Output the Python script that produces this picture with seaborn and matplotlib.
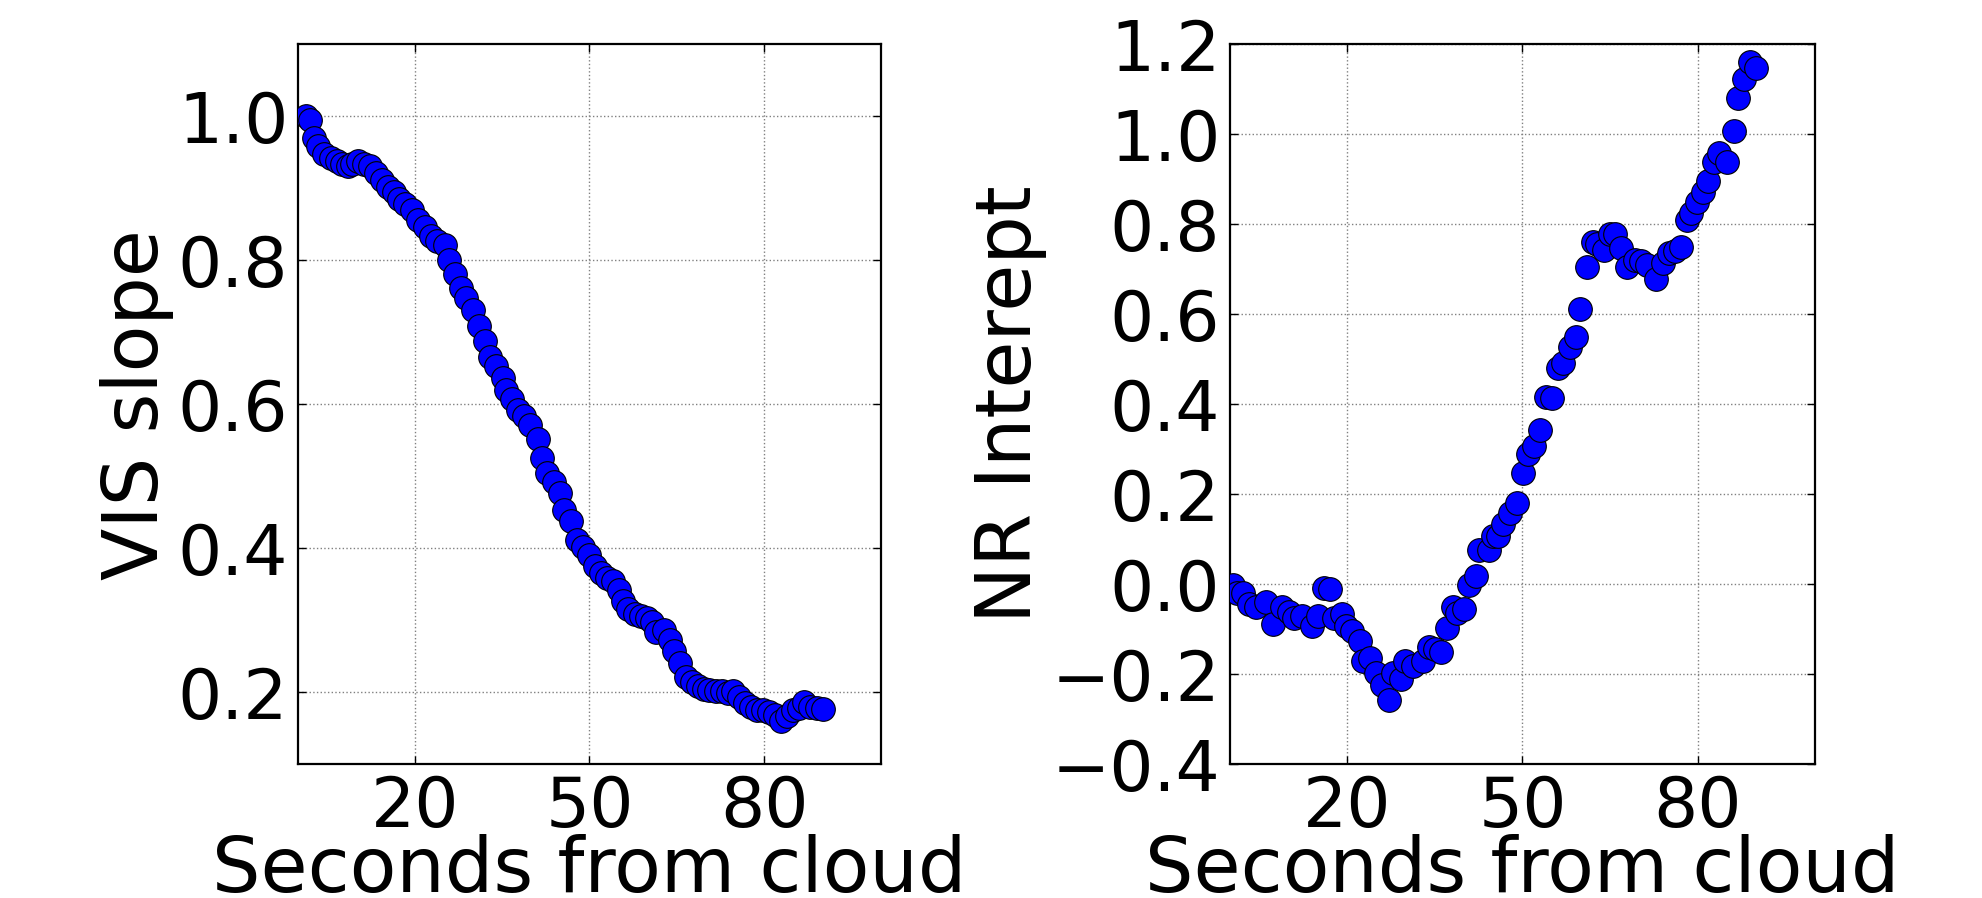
import matplotlib
matplotlib.use("Agg")
import matplotlib.pyplot as plt
import seaborn as sns
import pandas as pd

# ---- data ----
vis_x = [1.4, 2.0, 2.7, 3.5, 4.5, 5.6, 6.6, 7.6, 8.6, 9.3, 10.3, 11.3, 12.3, 13.4, 14.4,
         15.4, 16.4, 17.4, 18.4, 19.5, 20.5, 21.8, 22.8, 23.9, 25.2, 25.9, 26.9, 27.9, 28.9,
         30.0, 31.0, 32.0, 33.0, 34.0, 35.1, 35.7, 36.7, 37.8, 38.8, 39.8, 41.2, 41.8, 42.8,
         43.9, 44.9, 45.6, 46.9, 47.9, 48.9, 50.0, 51.0, 52.0, 53.0, 54.0, 55.1, 55.7, 56.7,
         57.8, 58.8, 59.8, 60.8, 61.5, 62.8, 63.9, 64.5, 65.6, 66.6, 67.6, 68.6, 69.6, 70.6,
         71.7, 72.7, 73.7, 74.7, 75.7, 76.7, 77.8, 78.8, 79.8, 80.8, 81.8, 82.8, 83.9, 84.9,
         85.9, 86.9, 87.9, 89.0, 90.0]
vis_slope = [1.000, 0.995, 0.969, 0.958, 0.947, 0.942, 0.937, 0.934, 0.931, 0.934, 0.937,
             0.934, 0.931, 0.921, 0.911, 0.901, 0.895, 0.885, 0.878, 0.869, 0.855, 0.846,
             0.833, 0.826, 0.821, 0.800, 0.780, 0.761, 0.748, 0.731, 0.708, 0.687, 0.666,
             0.653, 0.636, 0.620, 0.607, 0.592, 0.584, 0.571, 0.551, 0.525, 0.505, 0.492,
             0.476, 0.453, 0.437, 0.411, 0.401, 0.391, 0.375, 0.365, 0.358, 0.355, 0.342,
             0.326, 0.316, 0.309, 0.306, 0.303, 0.297, 0.283, 0.286, 0.273, 0.257, 0.241,
             0.221, 0.214, 0.208, 0.205, 0.203, 0.201, 0.201, 0.199, 0.201, 0.193, 0.185,
             0.180, 0.175, 0.175, 0.172, 0.169, 0.160, 0.167, 0.175, 0.178, 0.186, 0.180,
             0.178, 0.177]

nir_x = [0.5, 1.2, 2.2, 3.2, 4.5, 6.1, 7.3, 8.9, 10.0, 11.0, 12.3, 14.0, 15.1, 16.1, 17.1,
         17.8, 19.1, 19.8, 20.8, 22.2, 22.8, 23.9, 24.9, 25.9, 27.1, 27.9, 29.2, 30.0, 31.3,
         33.0, 34.0, 35.1, 36.1, 37.1, 38.1, 38.8, 40.0, 40.9, 42.0, 42.5, 44.2, 44.9, 45.9,
         46.6, 47.9, 49.0, 50.1, 51.0, 52.0, 53.0, 54.0, 55.1, 56.1, 57.0, 58.1, 59.1, 59.9,
         61.0, 62.0, 62.8, 63.9, 64.9, 65.9, 66.9, 67.8, 69.3, 70.3, 71.3, 72.8, 74.0, 75.1,
         76.1, 77.1, 78.1, 78.8, 79.8, 80.8, 81.8, 82.7, 83.6, 84.9, 86.1, 86.9, 87.9, 88.9,
         89.9]
nir_intercept = [-0.003, -0.019, -0.019, -0.045, -0.050, -0.040, -0.089, -0.050, -0.061,
                 -0.076, -0.071, -0.092, -0.071, -0.008, -0.010, -0.076, -0.066, -0.092,
                 -0.103, -0.127, -0.171, -0.165, -0.197, -0.223, -0.257, -0.197, -0.211,
                 -0.171, -0.181, -0.171, -0.139, -0.144, -0.150, -0.097, -0.050, -0.063,
                 -0.055, -0.003, 0.018, 0.075, 0.075, 0.107, 0.107, 0.133, 0.159, 0.180,
                 0.248, 0.290, 0.306, 0.342, 0.416, 0.414, 0.481, 0.491, 0.526, 0.550,
                 0.612, 0.704, 0.761, 0.756, 0.742, 0.777, 0.777, 0.746, 0.704, 0.721,
                 0.719, 0.709, 0.677, 0.714, 0.735, 0.740, 0.749, 0.808, 0.824, 0.850,
                 0.871, 0.895, 0.937, 0.958, 0.937, 1.007, 1.081, 1.123, 1.161, 1.147]

x_ticks = [20, 50, 80]
vis_yticks = [0.2, 0.4, 0.6, 0.8, 1.0]
nir_yticks = [-0.4, -0.2, 0.0, 0.2, 0.4, 0.6, 0.8, 1.0, 1.2]

df_vis = pd.DataFrame({"t": vis_x, "v": vis_slope})
df_nir = pd.DataFrame({"t": nir_x, "v": nir_intercept})

sns.set_style("white")
plt.rcParams["font.family"] = ["DejaVu Sans"]
plt.rcParams["axes.unicode_minus"] = True
plt.rcParams["text.color"] = "black"
plt.rcParams["axes.labelcolor"] = "black"

fig = plt.figure(figsize=(19.82, 8.98), dpi=100)
ax1 = fig.add_axes([0.1504, 0.149, 0.294, 0.802])
ax2 = fig.add_axes([0.6206, 0.149, 0.2951, 0.802])

panels = [
    (ax1, df_vis, "VIS slope", (0.1, 1.1), vis_yticks),
    (ax2, df_nir, "NR Interept", (-0.4, 1.2), nir_yticks),
]

for ax, df, ylabel, ylim, yticks in panels:
    sns.scatterplot(data=df, x="t", y="v", ax=ax, color="blue", edgecolor="black",
                    linewidth=0.8, s=290, zorder=3, legend=False)
    ax.set_xlim(0, 100)
    ax.set_ylim(*ylim)
    ax.set_xticks(x_ticks)
    ax.set_yticks(yticks)
    ax.set_yticklabels([f"{v:.1f}".replace("-", "\u2212") for v in yticks])
    ax.grid(True, linestyle=":", color="#808080", linewidth=1.0, zorder=0)
    ax.set_axisbelow(True)
    for sp in ax.spines.values():
        sp.set_visible(True)
        sp.set_color("black")
        sp.set_linewidth(1.6)
    ax.tick_params(axis="both", which="major", direction="in", length=6, width=1,
                   labelsize=50, pad=7, top=True, right=True, bottom=True, left=True,
                   colors="black", labelcolor="black")
    ax.set_xlabel("Seconds from cloud", fontsize=55, labelpad=-5, color="black")
    ax.set_ylabel(ylabel, fontsize=55, labelpad=3, color="black")

fig.savefig("out.png", dpi=100)
